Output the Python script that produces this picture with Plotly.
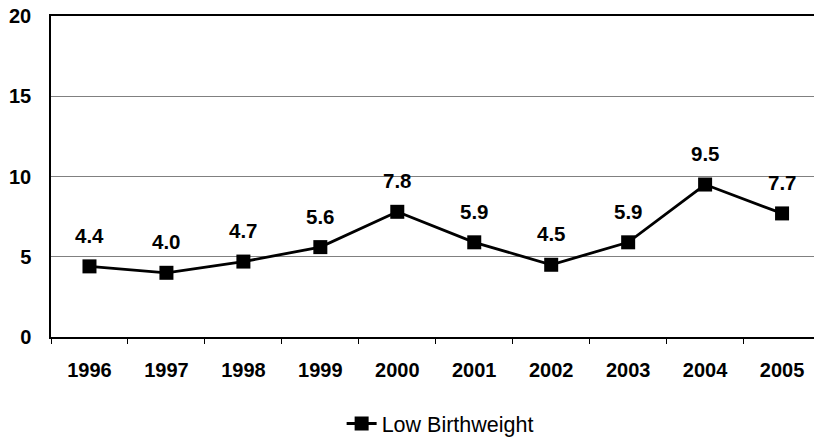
import plotly.graph_objects as go

years = ["1996", "1997", "1998", "1999", "2000", "2001", "2002", "2003", "2004", "2005"]
values = [4.4, 4.0, 4.7, 5.6, 7.8, 5.9, 4.5, 5.9, 9.5, 7.7]
labels = ["4.4", "4.0", "4.7", "5.6", "7.8", "5.9", "4.5", "5.9", "9.5", "7.7"]
y_ticks = [0, 5, 10, 15, 20]

FONT = "Arial, 'Liberation Sans', sans-serif"

fig = go.Figure()
fig.add_trace(go.Scatter(
    x=years, y=values, mode="lines+markers", name="Low Birthweight",
    line=dict(color="black", width=2.8),
    marker=dict(symbol="square", size=14, color="black"),
    cliponaxis=False,
))

for i, (v, t) in enumerate(zip(values, labels)):
    fig.add_annotation(x=i, y=v, xref="x", yref="y", text="<b>%s</b>" % t, showarrow=False,
                       yshift=31, yanchor="middle", xanchor="center",
                       font=dict(family=FONT, size=20.5, color="black"))

fig.update_layout(
    width=814, height=444,
    margin=dict(l=51, r=0, t=16, b=105.5),
    paper_bgcolor="white", plot_bgcolor="white",
    font=dict(family=FONT, color="black"),
    showlegend=True,
    legend=dict(orientation="h", x=0.51, xanchor="center", y=-0.268, yanchor="middle",
                font=dict(family=FONT, size=21.5, color="black")),
    xaxis=dict(
        type="category", range=[-0.5, 9.415],
        showline=True, linecolor="black", linewidth=1.5, mirror=True,
        ticks="outside", ticklen=5, tickcolor="black", tickson="boundaries",
        showgrid=False, ticklabelstandoff=14,
        tickfont=dict(family=FONT, size=20, color="black", weight="bold"),
    ),
    yaxis=dict(
        range=[0, 20], tickvals=y_ticks,
        showline=True, linecolor="black", linewidth=1.5,
        showgrid=True, gridcolor="#808080", gridwidth=1,
        zeroline=False, ticks="", ticklabelstandoff=14,
        tickfont=dict(family=FONT, size=20, color="black", weight="bold"),
    ),
)

fig.write_html("out.html", config={"displayModeBar": False},
               post_script="document.body.style.margin='0';document.body.style.overflow='hidden';")
